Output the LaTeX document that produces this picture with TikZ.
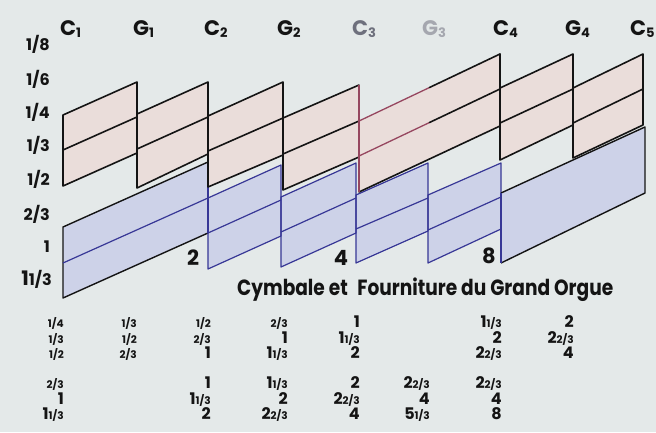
\documentclass[tikz,border=0pt]{standalone}
\usepackage{fontspec}
\setmainfont{Poppins}
\definecolor{bg}{RGB}{228,233,233}
\definecolor{pinkf}{RGB}{234,221,218}
\definecolor{bluef}{RGB}{205,210,232}
\definecolor{bline}{RGB}{55,55,150}
\definecolor{rline}{RGB}{150,70,95}
\definecolor{gA}{RGB}{110,112,125}
\definecolor{gB}{RGB}{165,167,175}
\definecolor{ink}{RGB}{20,20,20}
\newcommand\fr[1]{{\fontsize{10.5}{10.5}\selectfont #1}}
\newcommand\colsub[1]{\raisebox{-2.5pt}{\fontsize{13}{13}\selectfont #1}}
\tikzset{
 lab/.style={inner sep=0pt, text=ink},
 tbl/.style={lab, anchor=base east, font=\bfseries\fontsize{16}{16}\selectfont},
 side/.style={lab, anchor=base east, font=\bfseries\fontsize{16}{16}\selectfont},
 colname/.style={lab, anchor=base west, font=\bfseries\fontsize{21}{21}\selectfont},
 bignum/.style={lab, anchor=base, font=\bfseries\fontsize{21}{21}\selectfont},
 pl/.style={draw=ink, line width=1.6pt, line join=round, line cap=round},
 rl/.style={draw=rline, line width=1.3pt, line join=round},
 bl/.style={draw=bline, line width=1.2pt, line join=round},
 kl/.style={draw=ink, line width=1.4pt, line join=round},
}
\begin{document}
\begin{tikzpicture}[x=1pt,y=-1pt]
\useasboundingbox (0,0) rectangle (656,432);
\fill[bg] (0,0) rectangle (656,432);

% ---- blue band (Fourniture) fills
\foreach \xa/\xb/\ta/\ba/\tb/\bb in {63/208/227/298/162/233, 208/281/198/269/165/236, 281/356/197/267/163/233, 356/428/195/263/163/231, 428/501/195/263/163/229, 501/645/193/263/127/193}
  \fill[bluef] (\xa,\ta)--(\xb,\tb)--(\xb,\bb)--(\xa,\ba)--cycle;

% ---- pink band (Cymbale) fills
\foreach \xa/\xb/\ta/\ba/\tb/\bb in {63/137/115/186/82/153, 137/208/114/188/82/154, 208/283/116/187/82/155, 283/359/118/190/85/157, 359/500/121/192/54/126, 500/573/88/160/54/125, 573/643/88/158/54/125}
  \fill[pinkf] (\xa,\ta)--(\xb,\tb)--(\xb,\bb)--(\xa,\ba)--cycle;

% ---- blue lines
% C1 segment
\draw[kl] (208,162)--(63,227)--(63,298)--(208,233);
\draw[bl] (63,263)--(208,198);
\draw[bl] (208,162)--(208,233);
% C2 .. G3 segments
\foreach \xa/\xb/\ta/\ma/\ba/\tb/\mb/\bb in {208/281/198/233/269/165/200/236, 281/356/197/232/267/163/198/233, 356/428/195/229/263/163/198/231, 428/501/195/230/263/163/197/229}
{
  \draw[bl] (\xa,\ta)--(\xb,\tb)--(\xb,\bb)--(\xa,\ba)--cycle;
  \draw[bl] (\xa,\ma)--(\xb,\mb);
}
% C4 segment
\draw[kl] (501,193)--(645,127)--(645,193)--(501,263);
\draw[bl] (501,193)--(501,263);

% ---- pink lines
\foreach \xa/\xb/\ta/\ma/\ba/\tb/\mb/\bb in {63/137/115/150/186/82/117/153, 137/208/114/149/188/82/117/154, 208/283/116/151/187/82/118/155, 500/573/88/123/160/54/89/125, 573/643/88/123/158/54/89/125}
{
  \draw[pl] (\xa,\ta)--(\xb,\tb)--(\xb,\bb)--(\xa,\ba)--cycle;
  \draw[pl] (\xa,\ma)--(\xb,\mb);
}
% G2 segment
\draw[pl] (359,85)--(283,118)--(283,190)--(359,157);
\draw[pl] (283,154)--(359,121);
\draw[rl] (359,85)--(359,157);
% C3 segment (two columns)
\draw[rl] (359,121)--(429.5,87.5);
\draw[pl] (429.5,87.5)--(500,54);
\draw[rl] (359,156)--(429.5,122.5);
\draw[pl] (429.5,122.5)--(500,89);
\draw[pl] (359,192)--(500,126);
\draw[rl] (359,121)--(359,192);
\draw[pl] (500,54)--(500,126);

% ---- column names
\node[colname] (c1) at (60,35) {C\colsub{1}};
\node[colname] (g1) at (133,35) {G\colsub{1}};
\node[colname] (c2) at (204,35) {C\colsub{2}};
\node[colname] (g2) at (277,35) {G\colsub{2}};
\node[colname, text=gA] (c3) at (352,35) {C\colsub{3}};
\node[colname, text=gB] (g3) at (422,35) {G\colsub{3}};
\node[colname] (c4) at (493,35) {C\colsub{4}};
\node[colname] (g4) at (565,35) {G\colsub{4}};
\node[colname] (c5) at (630,35) {C\colsub{5}};

% ---- side labels
\node[side] (s1) at (50,50) {1/8};
\node[side] (s2) at (50,85) {1/6};
\node[side] (s3) at (50,118) {1/4};
\node[side] (s4) at (50,151) {1/3};
\node[side] (s5) at (50,185) {1/2};
\node[side] (s6) at (50,220) {2/3};
\node[side] (s7) at (50,252) {1};
\node[side] (s8) at (52,285) {{\fontsize{20}{20}\selectfont 1}1/3};

% ---- big numbers
\node[bignum] (n2) at (193,265) {2};
\node[bignum] (n4) at (341,265) {4};
\node[bignum] (n8) at (489,263) {8};

% ---- title
\node[lab, anchor=base west, font=\bfseries\fontsize{22}{22}\selectfont] (title) at (237,295)
  {\resizebox{376pt}{\height}{Cymbale et\hspace{0.3em} Fourniture du Grand Orgue}};

% ---- table: Cymbale
\node[tbl] (a11) at (64,327) {\fr{1/4}};
\node[tbl] (a12) at (137,327) {\fr{1/3}};
\node[tbl] (a13) at (211,327) {\fr{1/2}};
\node[tbl] (a14) at (288,327) {\fr{2/3}};
\node[tbl] (a15) at (360,327) {1};
\node[tbl] (a17) at (502,327) {1\fr{1/3}};
\node[tbl] (a18) at (574,327) {2};
\node[tbl] (a21) at (64,343) {\fr{1/3}};
\node[tbl] (a22) at (137,343) {\fr{1/2}};
\node[tbl] (a23) at (211,343) {\fr{2/3}};
\node[tbl] (a24) at (288,343) {1};
\node[tbl] (a25) at (360,343) {1\fr{1/3}};
\node[tbl] (a27) at (502,343) {2};
\node[tbl] (a28) at (574,343) {2\fr{2/3}};
\node[tbl] (a31) at (64,358) {\fr{1/2}};
\node[tbl] (a32) at (137,358) {\fr{2/3}};
\node[tbl] (a33) at (211,358) {1};
\node[tbl] (a34) at (288,358) {1\fr{1/3}};
\node[tbl] (a35) at (360,358) {2};
\node[tbl] (a37) at (502,358) {2\fr{2/3}};
\node[tbl] (a38) at (574,358) {4};

% ---- table: Fourniture
\node[tbl] (b11) at (64,388) {\fr{2/3}};
\node[tbl] (b13) at (211,388) {1};
\node[tbl] (b14) at (288,388) {1\fr{1/3}};
\node[tbl] (b15) at (360,388) {2};
\node[tbl] (b16) at (430,388) {2\fr{2/3}};
\node[tbl] (b17) at (502,388) {2\fr{2/3}};
\node[tbl] (b21) at (64,404) {1};
\node[tbl] (b23) at (211,404) {1\fr{1/3}};
\node[tbl] (b24) at (288,404) {2};
\node[tbl] (b25) at (360,404) {2\fr{2/3}};
\node[tbl] (b26) at (430,404) {4};
\node[tbl] (b27) at (502,404) {4};
\node[tbl] (b31) at (64,419) {1\fr{1/3}};
\node[tbl] (b33) at (211,419) {2};
\node[tbl] (b34) at (288,419) {2\fr{2/3}};
\node[tbl] (b35) at (360,419) {4};
\node[tbl] (b36) at (430,419) {5\fr{1/3}};
\node[tbl] (b37) at (502,419) {8};
\end{tikzpicture}
\end{document}
